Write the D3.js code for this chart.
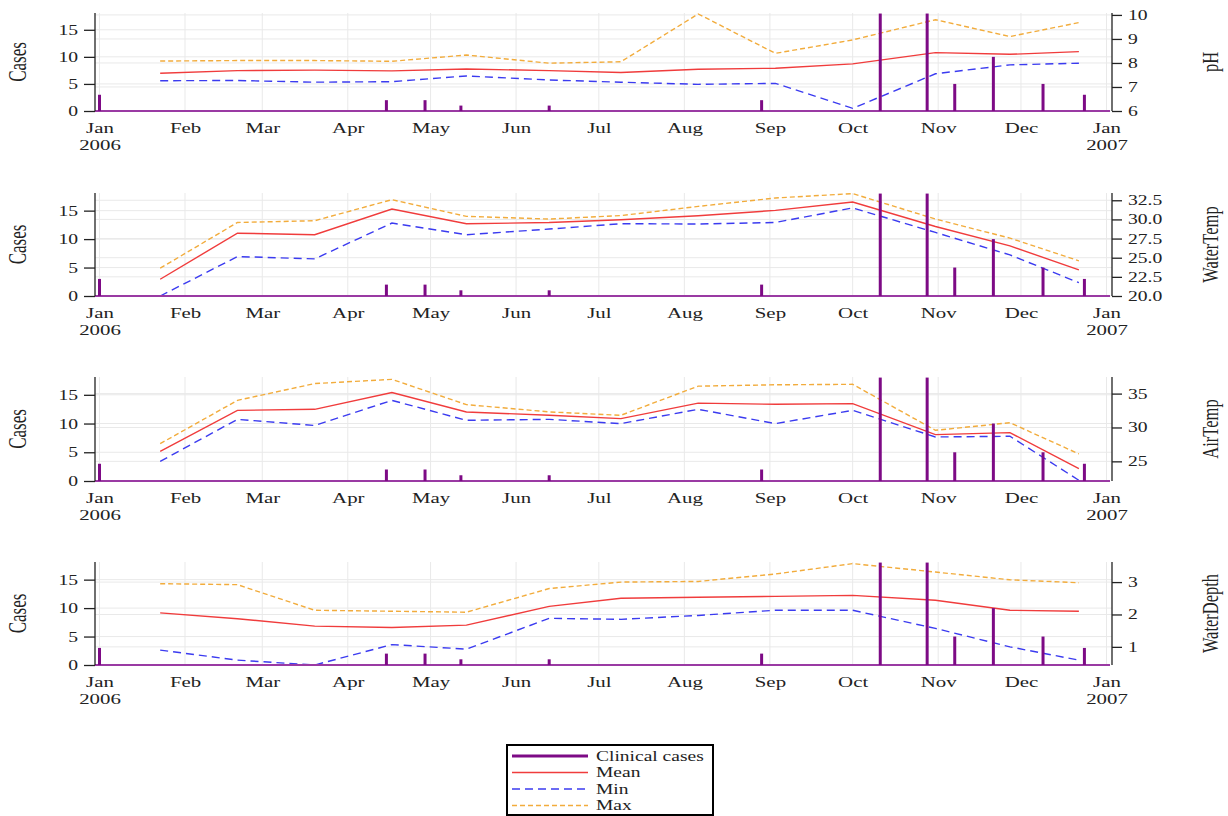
<!DOCTYPE html>
<html>
<head>
<meta charset="utf-8">
<script src="https://cdn.jsdelivr.net/npm/d3@7"></script>
<style>
  body { margin: 0; background: #fff; }
  svg { display: block; font-family: "Liberation Serif", "Times New Roman", serif; }
</style>
</head>
<body>
<div id="chart"></div>
<script>
const parse = d3.timeParse("%Y-%m-%d");

// monthly sampling dates of the water / air measurements
const sampleDates = ["2006-01-23", "2006-02-20", "2006-03-20", "2006-04-17", "2006-05-14", "2006-06-13",
  "2006-07-09", "2006-08-06", "2006-09-03", "2006-10-01", "2006-10-31", "2006-11-27", "2006-12-22"];

// clinical cases (left axis)
const caseDates = ["2006-01-01", "2006-04-15", "2006-04-29", "2006-05-12", "2006-06-13", "2006-08-29",
  "2006-10-11", "2006-10-28", "2006-11-07", "2006-11-21", "2006-12-09", "2006-12-24"];
const caseCounts = [3, 2, 2, 1, 1, 2, 18, 18, 5, 10, 5, 3];
const caseTicks = [0, 5, 10, 15];

const phMax = [8.08, 8.1, 8.1, 8.07, 8.33, 7.99, 8.05, 10.04, 8.4, 8.96, 9.8, 9.1, 9.68];
const phMean = [7.57, 7.68, 7.7, 7.67, 7.75, 7.68, 7.6, 7.74, 7.78, 7.96, 8.43, 8.36, 8.47];
const phMin = [7.26, 7.27, 7.2, 7.22, 7.46, 7.29, 7.2, 7.11, 7.15, 6.11, 7.55, 7.92, 7.99];
const phTicks = [6, 7, 8, 9, 10];

const waterTempMax = [23.63, 29.6, 29.83, 32.58, 30.4, 30.05, 30.5, 31.7, 32.8, 33.37, 30.05, 27.56, 24.59];
const waterTempMean = [22.19, 28.2, 28.0, 31.36, 29.43, 29.6, 29.96, 30.48, 31.18, 32.28, 29.08, 26.55, 23.4];
const waterTempMin = [20.0, 25.15, 24.85, 29.52, 28.0, 28.74, 29.44, 29.4, 29.6, 31.5, 28.3, 25.37, 21.74];
const waterTempTicks = [20, 22.5, 25, 27.5, 30, 32.5];

const airTempMax = [27.61, 34.0, 36.48, 37.1, 33.37, 32.3, 31.8, 36.1, 36.3, 36.37, 29.58, 30.7, 26.1];
const airTempMean = [26.48, 32.53, 32.68, 35.15, 32.28, 31.8, 31.3, 33.6, 33.42, 33.52, 28.94, 29.24, 23.92];
const airTempMin = [25.0, 31.2, 30.3, 34.0, 31.06, 31.2, 30.57, 32.68, 30.57, 32.53, 28.6, 28.7, 22.2];
const airTempTicks = [25, 30, 35];

const depthMax = [2.95, 2.92, 2.13, 2.1, 2.07, 2.8, 3.0, 3.02, 3.25, 3.57, 3.31, 3.07, 2.98];
const depthMean = [2.05, 1.87, 1.64, 1.6, 1.67, 2.25, 2.5, 2.53, 2.56, 2.59, 2.44, 2.13, 2.1];
const depthMin = [0.9, 0.59, 0.44, 1.07, 0.93, 1.88, 1.85, 1.97, 2.13, 2.13, 1.57, 1.0, 0.59];
const depthTicks = [1, 2, 3];

const legendLabels = ["Clinical cases", "Mean", "Min", "Max"];

const width = 1228;
const height = 816;
const left = 95, right = 1112;
const colCases = "#7d0a85", colBase = "#9a3aa3", colMean = "#f03c3c", colMin = "#3b3bf0", colMax = "#f2ac3c";

const panels = [
  { name: "pH", max: phMax, mean: phMean, min: phMin, domain: [6, 10.08], ticks: phTicks, fmt: d3.format("d"), top: 13, bottom: 111 },
  { name: "WaterTemp", max: waterTempMax, mean: waterTempMean, min: waterTempMin, domain: [20, 33.45], ticks: waterTempTicks, fmt: d3.format(".1f"), top: 193, bottom: 296 },
  { name: "AirTemp", max: airTempMax, mean: airTempMean, min: airTempMin, domain: [22.1, 37.45], ticks: airTempTicks, fmt: d3.format("d"), top: 377, bottom: 481 },
  { name: "WaterDepth", max: depthMax, mean: depthMean, min: depthMin, domain: [0.44, 3.62], ticks: depthTicks, fmt: d3.format("d"), top: 562, bottom: 665 }
];

const dates = sampleDates.map(parse);
const cases = caseDates.map((d, i) => ({ date: parse(d), n: caseCounts[i] }));
const months = d3.timeMonth.range(new Date(2006, 0, 1), new Date(2007, 0, 2));

const svg = d3.select("#chart")
  .append("svg")
  .attr("width", width)
  .attr("height", height)
  .attr("viewBox", [0, 0, width, height]);

const x = d3.scaleTime()
  .domain([new Date(2005, 11, 30, 9), new Date(2007, 0, 3)])
  .range([left, right]);

// stretch text sideways, the reference glyphs are wide
function widen(sel, k) {
  sel.each(function() {
    const len = this.getComputedTextLength();
    d3.select(this).attr("textLength", len * k).attr("lengthAdjust", "spacingAndGlyphs");
  });
}

panels.forEach(p => {
  const yL = d3.scaleLinear().domain([0, 18.1]).range([p.bottom, p.top]);
  const yR = d3.scaleLinear().domain(p.domain).range([p.bottom, p.top]);
  const g = svg.append("g");

  const grid = g.append("g").attr("stroke", "#e9e9e9").attr("stroke-width", 1);
  grid.selectAll(".gl").data(caseTicks.filter(d => d > 0)).join("line")
    .attr("x1", left).attr("x2", right)
    .attr("y1", d => yL(d)).attr("y2", d => yL(d));
  grid.selectAll(".gr").data(p.ticks).join("line")
    .attr("x1", left).attr("x2", right)
    .attr("y1", d => yR(d)).attr("y2", d => yR(d));
  grid.selectAll(".gv").data(months).join("line")
    .attr("x1", d => x(d)).attr("x2", d => x(d))
    .attr("y1", p.top).attr("y2", p.bottom);

  const line = d3.line().x((d, j) => x(dates[j])).y(d => yR(d));

  g.append("path").datum(p.max)
    .attr("d", line).attr("fill", "none")
    .attr("stroke", colMax).attr("stroke-width", 1.4).attr("stroke-dasharray", "5,3");
  g.append("path").datum(p.mean)
    .attr("d", line).attr("fill", "none")
    .attr("stroke", colMean).attr("stroke-width", 1.4);
  g.append("path").datum(p.min)
    .attr("d", line).attr("fill", "none")
    .attr("stroke", colMin).attr("stroke-width", 1.4).attr("stroke-dasharray", "8,5");

  g.append("line")
    .attr("x1", left).attr("x2", right - 2)
    .attr("y1", yL(0)).attr("y2", yL(0))
    .attr("stroke", colBase).attr("stroke-width", 2);

  g.append("g").selectAll("line").data(cases).join("line")
    .attr("x1", d => x(d.date)).attr("x2", d => x(d.date))
    .attr("y1", yL(0)).attr("y2", d => yL(d.n))
    .attr("stroke", colCases).attr("stroke-width", 3);

  const ax = g.append("g")
    .attr("transform", `translate(${left},0)`)
    .call(d3.axisLeft(yL).tickValues(caseTicks).tickSize(11).tickPadding(6).tickSizeOuter(0));
  const axR = g.append("g")
    .attr("transform", `translate(${right},0)`)
    .call(d3.axisRight(yR).tickValues(p.ticks).tickFormat(p.fmt).tickSize(10).tickPadding(6).tickSizeOuter(0));
  [ax, axR].forEach(a => {
    a.attr("font-family", null).attr("font-size", 14);
    a.selectAll("path, line").attr("stroke", "#222").attr("stroke-width", 1.3);
    a.select(".domain").attr("d", `M0,${p.top}V${p.bottom}`);
    widen(a.selectAll("text").attr("fill", "#222"), 1.4);
  });

  const axB = g.append("g")
    .attr("transform", `translate(0,${p.bottom})`)
    .call(d3.axisBottom(x).tickValues(months).tickSize(0).tickPadding(11.5).tickFormat(d3.timeFormat("%b")));
  axB.attr("font-family", null).attr("font-size", 15);
  axB.select(".domain").remove();
  axB.selectAll(".tick").filter(d => d.getMonth() === 0)
    .append("text")
    .attr("fill", "#222")
    .attr("y", 28)
    .attr("dy", "0.71em")
    .text(d => d.getFullYear());
  widen(axB.selectAll("text").attr("fill", "#222"), 1.39);

  const mid = (p.top + p.bottom) / 2;
  g.append("text")
    .attr("transform", `translate(17,${mid}) scale(1.43,1) rotate(-90)`)
    .attr("text-anchor", "middle").attr("dy", "0.35em")
    .attr("font-size", 17).attr("fill", "#222")
    .text("Cases");
  g.append("text")
    .attr("transform", `translate(1210,${mid}) scale(1.43,1) rotate(-90)`)
    .attr("text-anchor", "middle").attr("dy", "0.35em")
    .attr("font-size", 16.5).attr("fill", "#222")
    .text(p.name);
});

// legend
const leg = svg.append("g").attr("transform", "translate(507,745)");
leg.append("rect")
  .attr("width", 206).attr("height", 70)
  .attr("fill", "#fff").attr("stroke", "#000").attr("stroke-width", 2);
const legStyle = [
  { c: colCases, w: 3, dash: null },
  { c: colMean, w: 1.4, dash: null },
  { c: colMin, w: 1.4, dash: "8,5" },
  { c: colMax, w: 1.4, dash: "5,3" }
];
const rows = leg.selectAll(".row").data(legendLabels).join("g")
  .attr("transform", (d, i) => `translate(0,${11 + i * 16.5})`);
rows.append("line")
  .attr("x1", 5).attr("x2", 81)
  .attr("stroke", (d, i) => legStyle[i].c)
  .attr("stroke-width", (d, i) => legStyle[i].w)
  .attr("stroke-dasharray", (d, i) => legStyle[i].dash);
rows.append("text")
  .attr("x", 89).attr("dy", "0.33em")
  .attr("font-size", 15).attr("fill", "#222")
  .text(d => d);
widen(rows.selectAll("text"), 1.3);
</script>
</body>
</html>
